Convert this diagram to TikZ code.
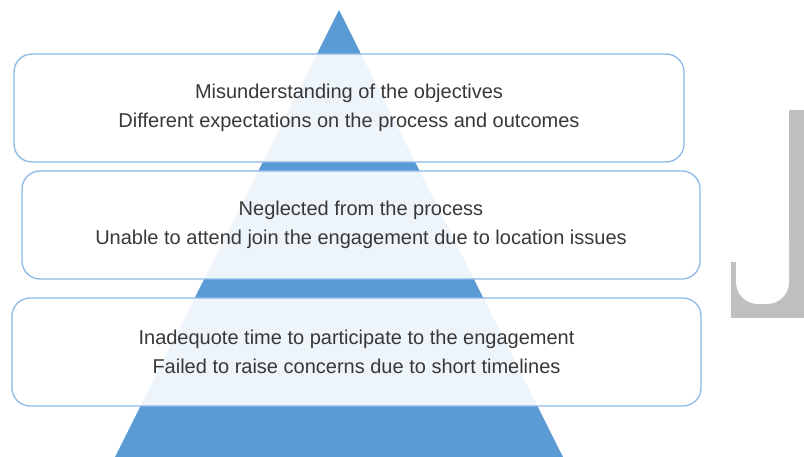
\documentclass[tikz,border=0pt]{standalone}
\usepackage{fontspec}
\setmainfont{Liberation Sans}
\definecolor{pyramidblue}{HTML}{5B9BD5}
\definecolor{boxblue}{HTML}{8DB9E8}
\definecolor{textgrey}{HTML}{383838}
\definecolor{markgrey}{HTML}{BFBFBF}

\begin{document}
\begin{tikzpicture}[x=1pt,y=-1pt,
    level/.style={draw=boxblue, line width=1.3pt, rounded corners=18pt,
      fill=white, fill opacity=.9, text opacity=1, text=textgrey,
      align=center, minimum height=108pt,
      font=\fontsize{20}{29}\selectfont}]
            \useasboundingbox (0,0) rectangle (804,457);

            % pyramid behind the boxes
            \fill[pyramidblue] (339,10) -- (115,457) -- (563,457) -- cycle;

            % J mark on the right
            \fill[markgrey] (789,110) rectangle (804,318);
            \fill[markgrey] (731,262) rectangle (804,318);
            \fill[white, rounded corners=22pt] (736,220) rectangle (789,304);

            % top level
            \node[level, minimum width=670pt] (objectives) at (349,108)
              {Misunderstanding of the objectives\\
               Different expectations on the process and outcomes};

            % middle level
            \node[level, minimum width=678pt] (location) at (361,225)
              {Neglected from the process\\
               Unable to attend join the engagement due to location issues};

            % bottom level
            \node[level, minimum width=689pt] (timelines) at (356.5,352)
              {Inadequote time to participate to the engagement\\
               Failed to raise concerns due to short timelines};

          \end{tikzpicture}
\end{document}
